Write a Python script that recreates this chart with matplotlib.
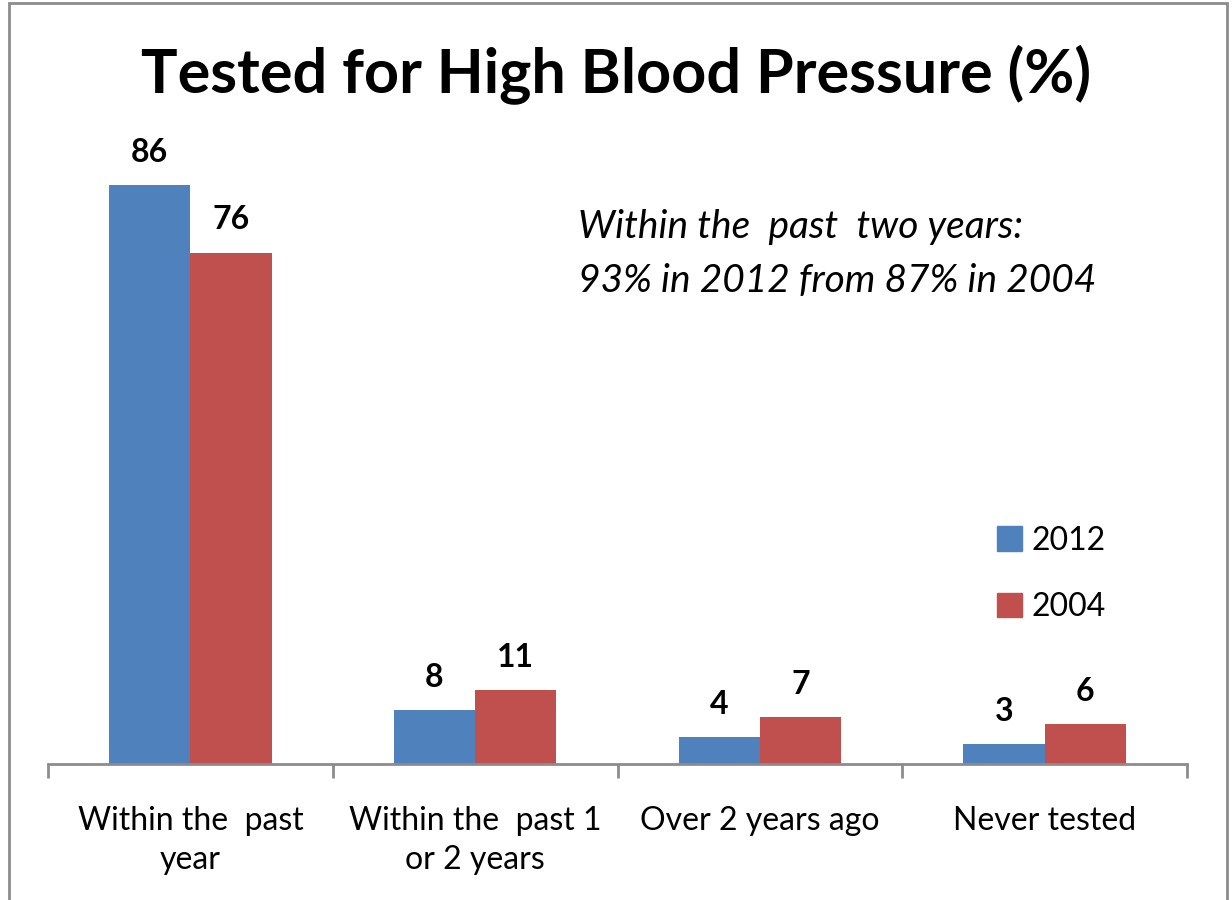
import matplotlib.pyplot as plt
from matplotlib.patches import Patch, Rectangle

categories = ["Within the  past\nyear", "Within the  past 1\nor 2 years", "Over 2 years ago", "Never tested"]
series_names = ["2012", "2004"]
values_2012 = [86, 8, 4, 3]
values_2004 = [76, 11, 7, 6]
colors = ["#4F81BD", "#C0504D"]

plt.rcParams["font.family"] = ["Lato", "DejaVu Sans"]

fig = plt.figure(figsize=(12.32, 9), dpi=100)
fig.patches.append(Rectangle((9 / 1232, -0.05), (1227 - 9) / 1232, 1.05 - 3 / 900,
                             transform=fig.transFigure, fill=False,
                             edgecolor="#8c8c8c", linewidth=2))

ax = fig.add_axes([48 / 1232, 1 - 764 / 900, (1187 - 48) / 1232, (764 - 91) / 900])
x = range(len(categories))
w = 0.285
b1 = ax.bar([i - w / 2 for i in x], values_2012, w, color=colors[0])
b2 = ax.bar([i + w / 2 for i in x], values_2004, w, color=colors[1])

for bars in (b1, b2):
    for rect in bars:
        ax.annotate(f"{rect.get_height():g}",
                    (rect.get_x() + rect.get_width() / 2, rect.get_height()),
                    xytext=(0, 13), textcoords="offset points",
                    ha="center", va="bottom", fontsize=23, fontweight="bold")

ax.set_xlim(-0.5, len(categories) - 0.5)
ax.set_ylim(0, 100)
ax.set_yticks([])
for s in ("top", "right", "left"):
    ax.spines[s].set_visible(False)
ax.spines["bottom"].set_color("#8c8c8c")
ax.spines["bottom"].set_linewidth(2)

ax.set_xticks([i - 0.5 for i in range(len(categories) + 1)], minor=False)
ax.set_xticklabels([])
ax.tick_params(axis="x", which="major", length=10, width=2, color="#8c8c8c")
ax.set_xticks(list(x), minor=True)
ax.set_xticklabels(categories, minor=True, fontsize=23, linespacing=1.38)
ax.tick_params(axis="x", which="minor", length=0, pad=30)

fig.text(0.5, 1 - 75 / 900, "Tested for High Blood Pressure (%)",
         ha="center", va="center", fontsize=44, fontweight="bold")
fig.text(578 / 1232, 1 - 254 / 900,
         "Within the  past  two years:\n93% in 2012 from 87% in 2004",
         ha="left", va="center", fontsize=28, style="italic", linespacing=1.6)

handles = [Patch(color=c) for c in colors]
fig.legend(handles, series_names, loc="center left",
           bbox_to_anchor=(968 / 1232, 1 - 574 / 900), frameon=False,
           fontsize=23, handlelength=0.8, handleheight=0.8,
           handletextpad=0.3, labelspacing=1.15)

fig.savefig("out.png", dpi=100)
